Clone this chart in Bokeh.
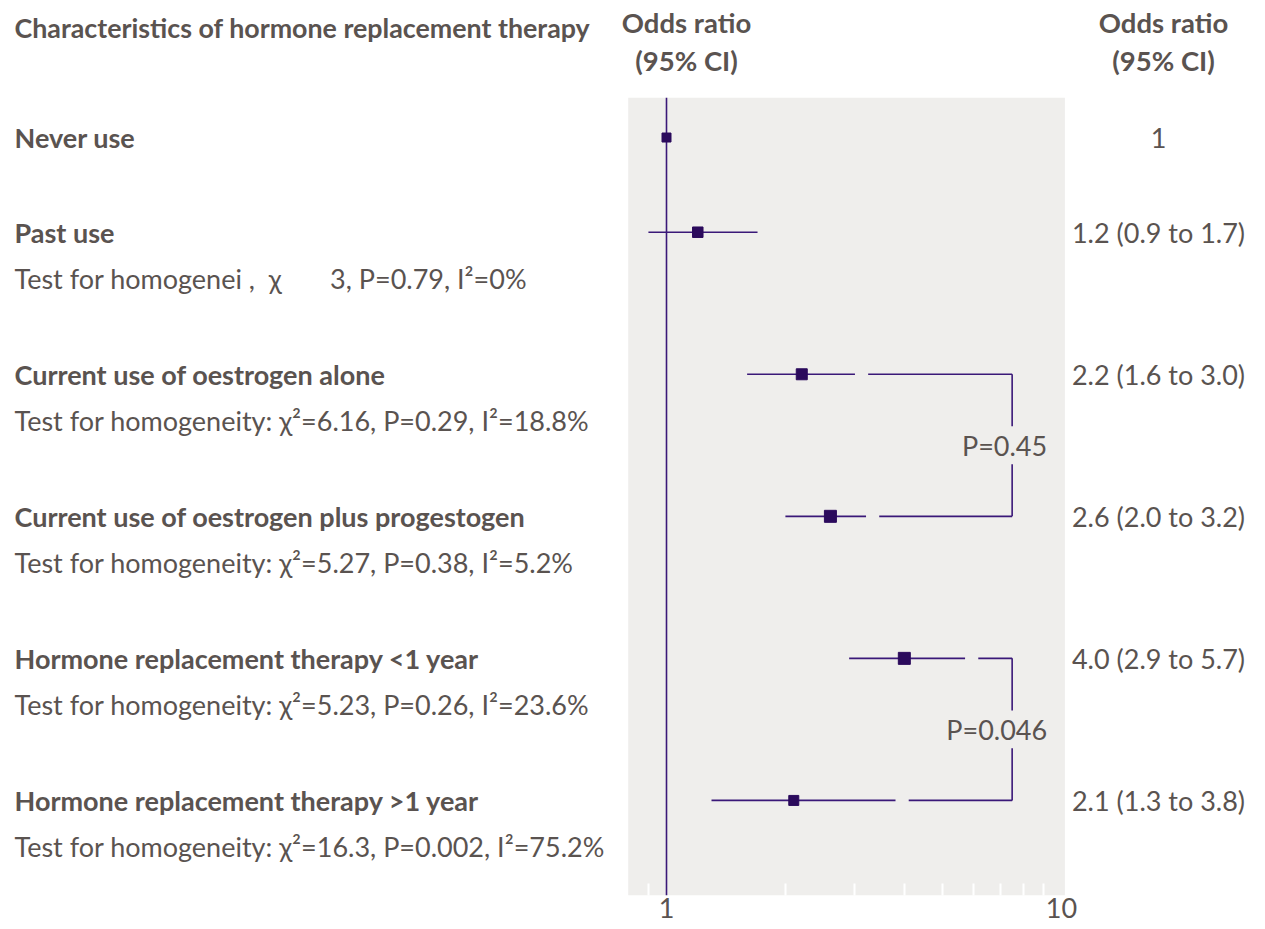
from bokeh.plotting import figure
from bokeh.models import Range1d, LogScale, LogAxis, FixedTicker, ColumnDataSource, BasicTickFormatter
from bokeh.embed import file_html
from bokeh.resources import INLINE
from bokeh.core.properties import value

# ---------------- data ----------------
categories = [
    "Never use",
    "Past use",
    "Current use of oestrogen alone",
    "Current use of oestrogen plus progestogen",
    "Hormone replacement therapy <1 year",
    "Hormone replacement therapy >1 year",
]
odds_ratio = [1.0, 1.2, 2.2, 2.6, 4.0, 2.1]
ci_lower = [1.0, 0.9, 1.6, 2.0, 2.9, 1.3]
ci_upper = [1.0, 1.7, 3.0, 3.2, 5.7, 3.8]
or_text = ["1", "1.2 (0.9 to 1.7)", "2.2 (1.6 to 3.0)", "2.6 (2.0 to 3.2)",
           "4.0 (2.9 to 5.7)", "2.1 (1.3 to 3.8)"]
NB = "\u00a0"
homogeneity = [
    "",
    "Test for homogenei" + NB + "," + NB * 2 + "χ" + NB * 7 + "3, P=0.79, I²=0%",
    "Test for homogeneity: χ²=6.16, P=0.29, I²=18.8%",
    "Test for homogeneity: χ²=5.27, P=0.38, I²=5.2%",
    "Test for homogeneity: χ²=5.23, P=0.26, I²=23.6%",
    "Test for homogeneity: χ²=16.3, P=0.002, I²=75.2%",
]
comparison_first = [2, 4]
comparison_second = [3, 5]
comparison_p = ["P=0.45", "P=0.046"]
x_ticks = [1, 10]
x_minor_ticks = [0.9, 2, 3, 4, 5, 6, 7, 8, 9]
header_left = "Characteristics of hormone replacement therapy"
header_or = ["Odds ratio", "(95% CI)"]

# ---------------- layout / style ----------------
W, H = 1257, 927
BOTTOM_BORDER = 32
ROW_GAP = [0, 1, 1.5, 1.5, 1.5, 1.5]          # vertical spacing between rows (row units)
rows = []
acc = 0
for g in ROW_GAP:
    acc += g
    rows.append(acc)
TOP_ROW, BOTTOM_ROW = -1.447, 8.004
PANEL_TOP = -0.42
PANEL_LO, PANEL_HI = 0.8, 10.2
PX_ONE, PX_DECADE = 666.0, 395.0
BRACKET_X = 7.5
BRACKET_GAP = 1.08
P_GAP = 0.2
MARKER_SIZE = [9, 10.5, 11, 12, 12, 10]
TEXT = "#5a5350"
PURPLE_LINE = "#3a1878"
PURPLE_MARK = "#2b0a5c"
PANEL = "#efeeec"
FONT = "Lato"
FS = "27px"
FS_HEAD = "27.5px"
LEFT_X = 14
RIGHT_X = 1158
HEAD_OR_X = [686, 1163]

or_start = 10 ** (-PX_ONE / PX_DECADE)
or_end = 10 ** ((W - PX_ONE) / PX_DECADE)

p = figure(width=W, height=H, output_backend="svg", toolbar_location=None,
           x_range=Range1d(0, W), y_range=Range1d(BOTTOM_ROW, TOP_ROW),
           extra_x_ranges={"or": Range1d(or_start, or_end)},
           extra_x_scales={"or": LogScale()},
           x_axis_location=None, y_axis_location=None,
           min_border_left=0, min_border_right=0, min_border_top=0,
           min_border_bottom=BOTTOM_BORDER,
           outline_line_color=None, background_fill_color=None, border_fill_color="white")
p.grid.visible = False

# gray panel
p.quad(left=[PANEL_LO], right=[PANEL_HI], top=[PANEL_TOP], bottom=[BOTTOM_ROW],
       fill_color=PANEL, line_color=None, x_range_name="or")

# null line
p.segment(x0=[1], x1=[1], y0=[PANEL_TOP], y1=[BOTTOM_ROW], line_color=PURPLE_LINE,
          line_width=1.6, x_range_name="or")

# CIs
ci_idx = [i for i in range(len(categories)) if ci_lower[i] != ci_upper[i]]
src_ci = ColumnDataSource(dict(x0=[ci_lower[i] for i in ci_idx], x1=[ci_upper[i] for i in ci_idx],
                               y=[rows[i] for i in ci_idx]))
p.segment(x0="x0", x1="x1", y0="y", y1="y", source=src_ci, line_color=PURPLE_LINE,
          line_width=1.6, x_range_name="or")

# comparison brackets
bx0, bx1, by0, by1 = [], [], [], []
lab_x, lab_y = [], []
for a, b in zip(comparison_first, comparison_second):
    for k in (a, b):
        bx0.append(ci_upper[k] * BRACKET_GAP); bx1.append(BRACKET_X)
        by0.append(rows[k]); by1.append(rows[k])
    mid = (rows[a] + rows[b]) / 2
    bx0 += [BRACKET_X, BRACKET_X]; bx1 += [BRACKET_X, BRACKET_X]
    by0 += [rows[a], mid + P_GAP]; by1 += [mid - P_GAP, rows[b]]
    lab_x.append(BRACKET_X); lab_y.append(mid)
p.segment(x0=bx0, x1=bx1, y0=by0, y1=by1, line_color=PURPLE_LINE, line_width=1.6,
          x_range_name="or")
p.text(x=lab_x, y=lab_y, text=comparison_p, x_offset=35, text_align="right",
       text_baseline="middle", text_color=TEXT, text_font=value(FONT),
       text_font_size=FS, x_range_name="or")

# point estimates
src_pt = ColumnDataSource(dict(x=odds_ratio, y=rows, s=MARKER_SIZE))
p.scatter(x="x", y="y", size="s", marker="square", source=src_pt, fill_color=PURPLE_MARK,
          line_color=PURPLE_MARK, x_range_name="or")

# left labels
p.text(x=[LEFT_X] * len(categories), y=rows, text=categories, text_align="left",
       text_baseline="middle", text_color=TEXT, text_font=value(FONT),
       text_font_style="bold", text_font_size=FS)
hom_idx = [i for i in range(len(categories)) if homogeneity[i]]
p.text(x=[LEFT_X] * len(hom_idx), y=[rows[i] + 0.49 for i in hom_idx],
       text=[homogeneity[i] for i in hom_idx], text_align="left", text_baseline="middle",
       text_color=TEXT, text_font=value(FONT), text_font_size=FS)

# right OR labels
p.text(x=[RIGHT_X] * len(or_text), y=rows, text=or_text, text_align="center",
       text_baseline="middle", text_color=TEXT, text_font=value(FONT), text_font_size=FS)

# headers
p.text(x=[LEFT_X], y=[-1.16], text=[header_left], text_align="left", text_baseline="middle",
       text_color=TEXT, text_font=value(FONT), text_font_style="bold", text_font_size="26.8px")
for xc in HEAD_OR_X:
    p.text(x=[xc, xc], y=[-1.215, -0.815], text=header_or, text_align="center",
           text_baseline="middle", text_color=TEXT, text_font=value(FONT),
           text_font_style="bold", text_font_size=FS_HEAD)

# log axis
ax = LogAxis(x_range_name="or", ticker=FixedTicker(ticks=x_ticks, minor_ticks=x_minor_ticks),
             formatter=BasicTickFormatter())
ax.axis_line_color = None
ax.major_tick_in = 0
ax.major_tick_out = 0
ax.minor_tick_in = 12
ax.minor_tick_out = 0
ax.minor_tick_line_color = "white"
ax.minor_tick_line_width = 2
ax.major_label_standoff = 2
ax.major_label_text_font = FONT
ax.major_label_text_font_size = FS
ax.major_label_text_color = TEXT
p.add_layout(ax, "below")

open("out.html", "w").write(file_html(p, INLINE))
